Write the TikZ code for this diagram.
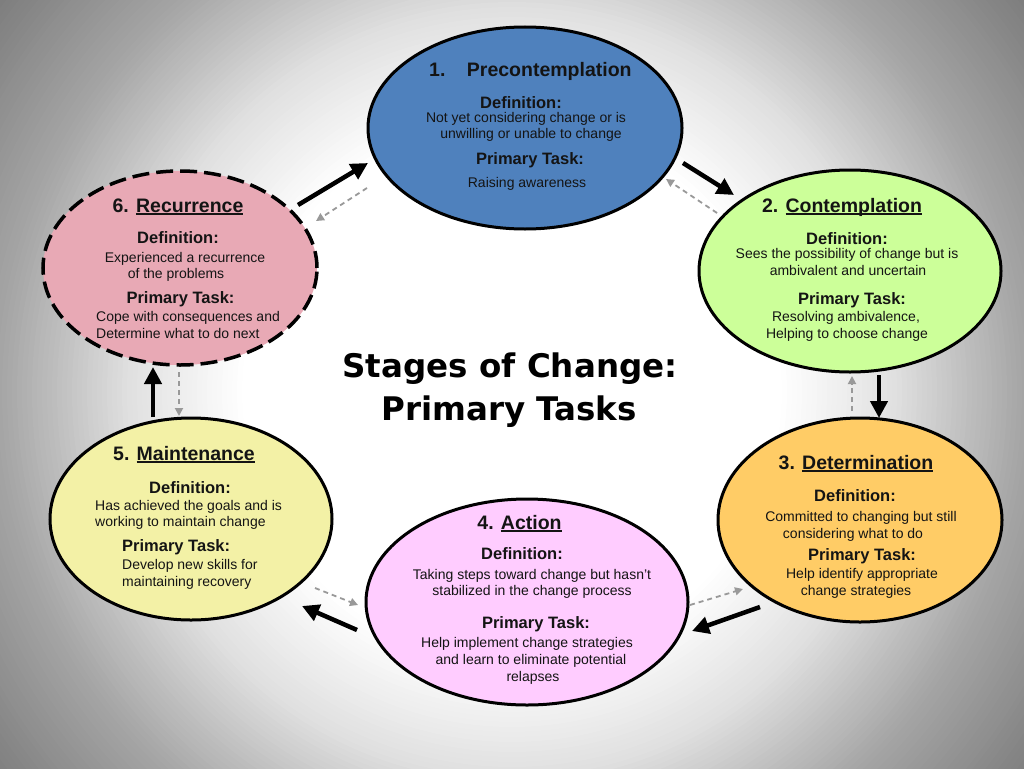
\documentclass[tikz,border=0pt]{standalone}
\usepackage{fontspec}
\setmainfont{Liberation Sans}
\newfontfamily\titlefont{DejaVu Sans}
\usetikzlibrary{shapes.geometric,arrows.meta}
\definecolor{preC}{HTML}{4F81BD}
\definecolor{conC}{HTML}{CCFF99}
\definecolor{detC}{HTML}{FFCC66}
\definecolor{actC}{HTML}{FFCCFF}
\definecolor{maiC}{HTML}{F3F1A6}
\definecolor{recC}{HTML}{E8A9B5}
\definecolor{arrgray}{HTML}{999999}
\definecolor{txtC}{HTML}{141414}
\newcommand\myul[1]{\setbox0=\hbox{#1}\rlap{\rule[-2.8pt]{\wd0}{1.6pt}}\box0}
\tikzset{
  stage/.style={ellipse, draw=black, line width=3pt, inner sep=0pt},
  ttl/.style={font=\fontsize{19.5}{22}\selectfont\bfseries, anchor=base, inner sep=0pt, text=txtC},
  hdr/.style={font=\fontsize{16.5}{19}\selectfont\bfseries, anchor=base, inner sep=0pt, text=txtC},
  bod/.style={font=\fontsize{14}{16}\selectfont, anchor=base, inner sep=0pt, text=txtC},
  big/.style={font=\titlefont\fontsize{32.5}{40}\selectfont\bfseries, anchor=base, inner sep=0pt, text=black},
  fwd/.style={draw=black, line width=4.5pt, -{Triangle[length=17pt,width=17pt]}},
  bck/.style={draw=arrgray, line width=1.8pt, dash pattern=on 5pt off 4pt, -{Triangle[length=8pt,width=8pt]}}
}
\begin{document}
\begin{tikzpicture}[x=1pt,y=-1pt]
\useasboundingbox (0,0) rectangle (1024,768);
\begin{scope}
  \clip (0,0) rectangle (1024,768);
  \fill[white] (0,0) rectangle (1024,768);
  \foreach \i in {0,...,84} {
    \pgfmathsetmacro\rr{680-5*\i}
    \pgfmathsetmacro\pp{\rr>512 ? min(52,35+15*(\rr-512)/128) : (\rr>384 ? 12+23*(\rr-384)/128 : max(0,12*(\rr-270)/114))}
    \fill[black!\pp] (512,392) circle (\rr);
  }
\end{scope}

% ellipses
\node[stage, fill=preC, minimum width=314pt, minimum height=202pt] (pre) at (525,128) {};
\node[stage, fill=conC, minimum width=302pt, minimum height=202pt] (con) at (850,271) {};
\node[stage, fill=detC, minimum width=284pt, minimum height=204pt] (det) at (860,520) {};
\node[stage, fill=actC, minimum width=322pt, minimum height=206pt] (act) at (527,602) {};
\node[stage, fill=maiC, minimum width=282pt, minimum height=202pt] (mai) at (191,519) {};
\node[stage, fill=recC, dash pattern=on 17pt off 7pt, line width=3.5pt, minimum width=274pt, minimum height=194pt] (rec) at (180,268) {};

% title
\node[big] (t1) at (510,377) {Stages of Change:};
\node[big] (t2) at (509,420) {Primary Tasks};

% 1 precontemplation
\node[ttl, anchor=base west] (preT) at (429,77) {1.\hspace{21.5pt}Precontemplation};
\node[hdr] (preD) at (521,108) {Definition:};
\node[bod] (preD1) at (526,122) {Not yet considering change or is};
\node[bod] (preD2) at (531,138) {unwilling or unable to change};
\node[hdr] (preP) at (530,164) {Primary Task:};
\node[bod] (preP1) at (527,187) {Raising awareness};

% 2 contemplation
\node[ttl] (conT) at (842,212) {2. \myul{Contemplation}};
\node[hdr] (conD) at (847,244) {Definition:};
\node[bod] (conD1) at (847,258) {Sees the possibility of change but is};
\node[bod] (conD2) at (848,275) {ambivalent and uncertain};
\node[hdr] (conP) at (852,304) {Primary Task:};
\node[bod] (conP1) at (846,321) {Resolving ambivalence,};
\node[bod] (conP2) at (847,338) {Helping to choose change};

% 3 determination
\node[ttl] (detT) at (856,469) {3. \myul{Determination}};
\node[hdr] (detD) at (855,501) {Definition:};
\node[bod] (detD1) at (861,521) {Committed to changing but still};
\node[bod] (detD2) at (853,538) {considering what to do};
\node[hdr] (detP) at (862,560) {Primary Task:};
\node[bod] (detP1) at (862,578) {Help identify appropriate};
\node[bod] (detP2) at (856,595) {change strategies};

% 4 action
\node[ttl] (actT) at (519.5,529) {4. \myul{Action}};
\node[hdr] (actD) at (522,559) {Definition:};
\node[bod] (actD1) at (532,579) {Taking steps toward change but hasn’t};
\node[bod] (actD2) at (532,595) {stabilized in the change process};
\node[hdr] (actP) at (536,628) {Primary Task:};
\node[bod] (actP1) at (527,647) {Help implement change strategies};
\node[bod] (actP2) at (531,664) {and learn to eliminate potential};
\node[bod] (actP3) at (533,681) {relapses};

% 5 maintenance
\node[ttl] (maiT) at (184,460) {5. \myul{Maintenance}};
\node[hdr] (maiD) at (190,493) {Definition:};
\node[bod, anchor=base west] (maiD1) at (95,510) {Has achieved the goals and is};
\node[bod, anchor=base west] (maiD2) at (95,526) {working to maintain change};
\node[hdr, anchor=base west] (maiP) at (122,551) {Primary Task:};
\node[bod, anchor=base west] (maiP1) at (122,569) {Develop new skills for};
\node[bod, anchor=base west] (maiP2) at (122,586) {maintaining recovery};

% 6 recurrence
\node[ttl] (recT) at (178,212) {6. \myul{Recurrence}};
\node[hdr] (recD) at (178,243) {Definition:};
\node[bod] (recD1) at (185,262) {Experienced a recurrence};
\node[bod] (recD2) at (176,278) {of the problems};
\node[hdr] (recP) at (180.5,303) {Primary Task:};
\node[bod, anchor=base west] (recP1) at (96,321) {Cope with consequences and};
\node[bod, anchor=base west] (recP2) at (96,338) {Determine what to do next};

% arrow end points
\coordinate (a61s) at (298,205); \coordinate (a61e) at (368,163);
\coordinate (a12s) at (683,163); \coordinate (a12e) at (734,195);
\coordinate (a23s) at (879,375); \coordinate (a23e) at (879,418);
\coordinate (a34s) at (760,607); \coordinate (a34e) at (692,631);
\coordinate (a45s) at (357,630); \coordinate (a45e) at (302,606);
\coordinate (a56s) at (153,417); \coordinate (a56e) at (153,367);
\coordinate (d16s) at (367,188); \coordinate (d16e) at (316,221);
\coordinate (d21s) at (717,213); \coordinate (d21e) at (666,179);
\coordinate (d32s) at (852,411); \coordinate (d32e) at (852,376);
\coordinate (d43s) at (690,605); \coordinate (d43e) at (743,589);
\coordinate (d54s) at (315,588); \coordinate (d54e) at (358,605);
\coordinate (d65s) at (179,372); \coordinate (d65e) at (179,416);

\draw[fwd] (a61s) -- (a61e);
\draw[fwd] (a12s) -- (a12e);
\draw[fwd] (a23s) -- (a23e);
\draw[fwd] (a34s) -- (a34e);
\draw[fwd] (a45s) -- (a45e);
\draw[fwd] (a56s) -- (a56e);
\draw[bck] (d16s) -- (d16e);
\draw[bck] (d21s) -- (d21e);
\draw[bck] (d32s) -- (d32e);
\draw[bck] (d43s) -- (d43e);
\draw[bck] (d54s) -- (d54e);
\draw[bck] (d65s) -- (d65e);
\end{tikzpicture}
\end{document}
